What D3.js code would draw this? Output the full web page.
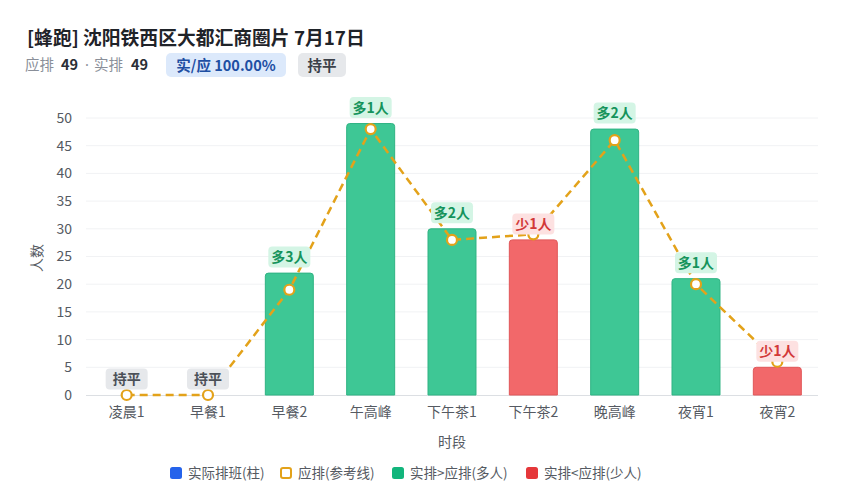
<!DOCTYPE html>
<html><head><meta charset="utf-8">
<script src="https://cdn.jsdelivr.net/npm/d3@7"></script>
<style>
body{margin:0;background:#fff;font-family:"Noto Sans CJK SC","Noto Sans",sans-serif;}
svg{display:block}
</style></head><body>
<svg id="c" width="849" height="500"></svg>
<script>
const categories = ["凌晨1","早餐1","早餐2","午高峰","下午茶1","下午茶2","晚高峰","夜宵1","夜宵2"];
const actual = [0,0,22,49,30,28,48,21,5];
const planned = [0,0,19,48,28,29,46,20,6];
const yTicks = [0,5,10,15,20,25,30,35,40,45,50];
const legendItems = ["实际排班(柱)","应排(参考线)","实排>应排(多人)","实排<应排(少人)"];

const svg = d3.select("#c");
const font = '"Noto Sans CJK SC","Noto Sans",sans-serif';
const M = {l:86, r:818, t:118, b:395};
const x = d3.scaleBand().domain(categories).range([M.l, M.r]).paddingInner(0.41).paddingOuter(0.205);
const y = d3.scaleLinear().domain([0,50]).range([M.b, M.t]);

// Header
svg.append("text").attr("x",27).attr("y",45).attr("font-family",font).attr("font-size",18.8)
  .attr("font-weight",700).attr("fill","#1f2329").text("[蜂跑] 沈阳铁西区大都汇商圈片 7月17日");
const sub = svg.append("text").attr("y",70).attr("font-family",font).attr("font-size",14.5);
sub.append("tspan").attr("x",25).attr("fill","#8a8f99").text("应排");
sub.append("tspan").attr("x",61).attr("fill","#2b2f36").attr("font-weight",700).text("49");
sub.append("tspan").attr("x",85).attr("fill","#8a8f99").attr("font-family",'"Noto Sans",sans-serif').text("·");
sub.append("tspan").attr("x",94).attr("fill","#8a8f99").text("实排");
sub.append("tspan").attr("x",131).attr("fill","#2b2f36").attr("font-weight",700).text("49");
function badge(x0, txt, bg, fg, w){
  svg.append("rect").attr("x",x0).attr("y",53).attr("width",w).attr("height",24).attr("rx",5).attr("fill",bg);
  svg.append("text").attr("x",x0+w/2).attr("y",70.5).attr("text-anchor","middle").attr("font-family",font)
    .attr("font-size",14.5).attr("font-weight",700).attr("fill",fg).text(txt);
}
badge(166,"实/应 100.00%","#dce9fb","#1e4fa3",120);
badge(298,"持平","#e6e8eb","#3b4048",48);

// Grid
const g = svg.append("g");
g.selectAll("line.grid").data(yTicks.slice(1)).enter().append("line")
  .attr("x1",M.l).attr("x2",M.r).attr("y1",d=>y(d)).attr("y2",d=>y(d))
  .attr("stroke","#f1f2f4").attr("stroke-width",1);

// Y axis
const yAxis = d3.axisLeft(y).tickValues(yTicks).tickSize(0).tickPadding(14);
const ya = svg.append("g").attr("transform",`translate(${M.l},0)`).call(yAxis);
ya.select(".domain").remove();
ya.selectAll("text").attr("font-family",font).attr("font-size",14).attr("fill","#555a62");

// X axis
const xAxis = d3.axisBottom(x).tickSize(0).tickPadding(12);
const xa = svg.append("g").attr("transform",`translate(0,${M.b})`).call(xAxis);
xa.select(".domain").attr("stroke","#dcdfe3").attr("d",`M${M.l},0.5H${M.r}`);
xa.selectAll("text").attr("font-family",font).attr("font-size",14).attr("fill","#555a62");

// axis titles
svg.append("text").attr("transform",`translate(42,258) rotate(-90)`).attr("text-anchor","middle")
  .attr("font-family",font).attr("font-size",14).attr("fill","#555a62").text("人数");
svg.append("text").attr("x",x("下午茶1")+x.bandwidth()/2).attr("y",447).attr("text-anchor","middle")
  .attr("font-family",font).attr("font-size",14).attr("fill","#555a62").text("时段");

// Bars (rounded top)
const data = categories.map((c,i)=>({c, a:actual[i], p:planned[i]}));
function barPath(d){
  const x0 = x(d.c), w = x.bandwidth(), y0 = y(d.a), yb = y(0), r = 3;
  if (d.a<=0) return "";
  return `M${x0},${yb}V${y0+r}Q${x0},${y0} ${x0+r},${y0}H${x0+w-r}Q${x0+w},${y0} ${x0+w},${y0+r}V${yb}Z`;
}
svg.append("g").selectAll("path").data(data).enter().append("path")
  .attr("d",barPath)
  .attr("fill",d=>d.a>=d.p?"#3ec795":"#f2686a")
  .attr("stroke",d=>d.a>=d.p?"#2fb383":"#e05658").attr("stroke-width",1);

// Line
const line = d3.line().x(d=>x(d.c)+x.bandwidth()/2).y(d=>y(d.p));
svg.append("path").datum(data).attr("d",line).attr("fill","none")
  .attr("stroke","#e3a21a").attr("stroke-width",2.5).attr("stroke-dasharray","8,5");
svg.append("g").selectAll("circle").data(data).enter().append("circle")
  .attr("cx",d=>x(d.c)+x.bandwidth()/2).attr("cy",d=>y(d.p)).attr("r",5)
  .attr("fill","#fff").attr("stroke","#e3a21a").attr("stroke-width",2.2);

// Labels
const lg = svg.append("g");
data.forEach(d=>{
  const diff = d.a - d.p;
  const txt = diff>0?`多${diff}人`:diff<0?`少${-diff}人`:"持平";
  const bg = diff>0?"#d4f5e5":diff<0?"#fde1e1":"#e6e8eb";
  const fg = diff>0?"#15935b":diff<0?"#d23838":"#4b5058";
  const cx = x(d.c)+x.bandwidth()/2;
  const cy = y(d.a) - 16;
  const w = 42, h = 21;
  lg.append("rect").attr("x",cx-w/2).attr("y",cy-h/2).attr("width",w).attr("height",h).attr("rx",4).attr("fill",bg);
  lg.append("text").attr("x",cx).attr("y",cy+5).attr("text-anchor","middle").attr("font-family",font)
    .attr("font-size",14).attr("font-weight",700).attr("fill",fg).text(txt);
});

// Legend
const legendX = [170, 280, 392, 526];
const legendColors = ["#2563eb", null, "#12b57c", "#e5373a"];
legendItems.forEach((t,i)=>{
  const lx = legendX[i];
  if (legendColors[i]) {
    svg.append("rect").attr("x",lx).attr("y",467).attr("width",12).attr("height",12).attr("rx",2.5).attr("fill",legendColors[i]);
  } else {
    svg.append("rect").attr("x",lx+1).attr("y",468).attr("width",10).attr("height",10).attr("rx",2).attr("fill","#fff")
      .attr("stroke","#e3a21a").attr("stroke-width",2);
  }
  svg.append("text").attr("x",lx+18).attr("y",478).attr("font-family",font).attr("font-size",13.5)
    .attr("fill","#555a62").text(t);
});
</script>
</body></html>
